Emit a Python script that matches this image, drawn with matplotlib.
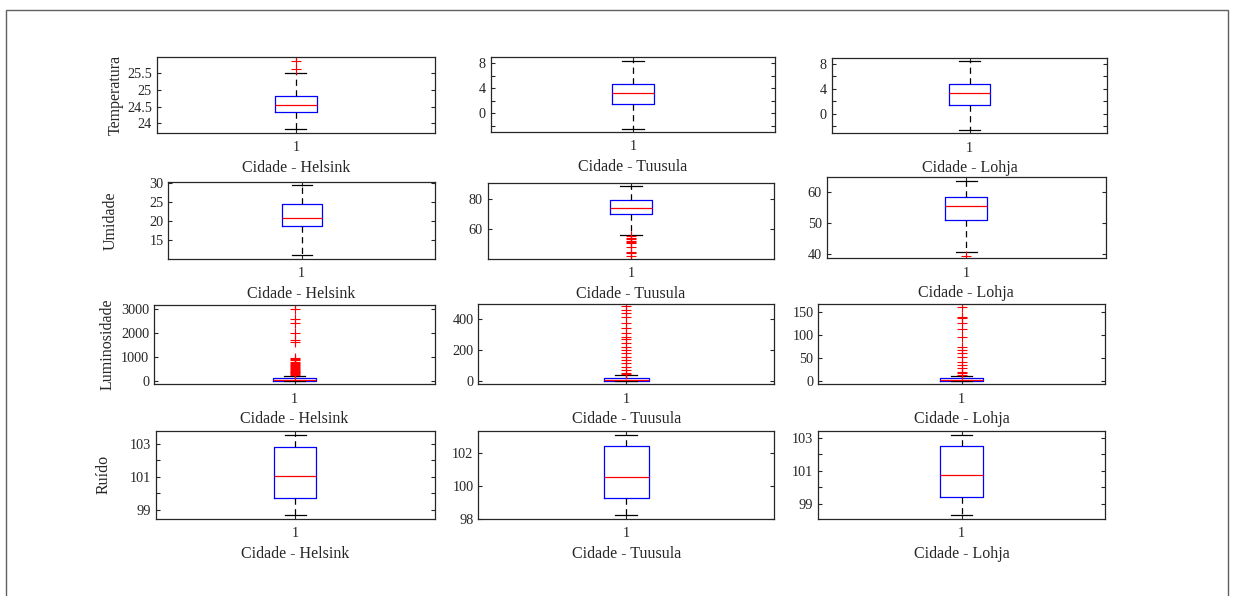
import matplotlib
matplotlib.use("Agg")
import matplotlib.pyplot as plt
from matplotlib.patches import Rectangle

# ---------------- data ----------------
cities = ["Helsink", "Tuusula", "Lohja"]
variables = ["Temperatura", "Umidade", "Luminosidade", "Ruído"]

# Temperatura (Helsink, Tuusula, Lohja)
temp_whislo = [23.83, -2.51, -2.51]
temp_q1 = [24.34, 1.44, 1.40]
temp_med = [24.56, 3.30, 3.36]
temp_q3 = [24.83, 4.74, 4.80]
temp_whishi = [25.51, 8.37, 8.48]
temp_fliers = [[25.88, 25.62], [], []]

# Umidade
umid_whislo = [10.95, 56.4, 40.4]
umid_q1 = [18.8, 69.9, 51.0]
umid_med = [20.92, 74.3, 55.4]
umid_q3 = [24.44, 79.1, 58.5]
umid_whishi = [29.5, 88.6, 63.6]
umid_fliers = [[],
               [55.6, 54.5, 53.8, 52.1, 51.5, 50.8, 48.1, 45.0, 44.2, 42.4],
               [39.4]]

# Luminosidade
lum_whislo = [0, 0, 0]
lum_q1 = [5, 1, 0.2]
lum_med = [25, 3, 0.8]
lum_q3 = [95, 15.6, 5.2]
lum_whishi = [200, 37, 9.6]
lum_fliers = [
    [3000, 2567, 2400, 1981, 1702, 1604, 940, 900, 850, 800, 750, 700, 660,
     620, 580, 540, 500, 460, 420, 380, 350, 310, 280, 250],
    [487, 461, 439, 417, 374, 341, 313, 282, 269, 243, 222, 200, 178, 156,
     135, 113, 91, 70, 48, 42],
    [162, 140.5, 137, 126, 112.7, 96.6, 74.6, 67.3, 60, 52.7, 41.7, 34.4,
     27, 19.8, 16, 12.4],
]

# Ruído
ruido_whislo = [98.68, 98.22, 98.30]
ruido_q1 = [99.71, 99.27, 99.40]
ruido_med = [101.02, 100.55, 100.72]
ruido_q3 = [102.78, 102.39, 102.52]
ruido_whishi = [103.55, 103.09, 103.18]
ruido_fliers = [[], [], []]

# y ticks and their labels per panel (row, col)
yticks = {
    (0, 0): ([24, 24.5, 25, 25.5], ["24", "24.5", "25", "25.5"]),
    (0, 1): ([-2, 0, 2, 4, 6, 8], ["", "0", "", "4", "", "8"]),
    (0, 2): ([-2, 0, 2, 4, 6, 8], ["", "0", "", "4", "", "8"]),
    (1, 0): ([15, 20, 25, 30], ["15", "20", "25", "30"]),
    (1, 1): ([60, 80], ["60", "80"]),
    (1, 2): ([40, 50, 60], ["40", "50", "60"]),
    (2, 0): ([0, 1000, 2000, 3000], ["0", "1000", "2000", "3000"]),
    (2, 1): ([0, 200, 400], ["0", "200", "400"]),
    (2, 2): ([0, 50, 100, 150], ["0", "50", "100", "150"]),
    (3, 0): ([99, 100, 101, 102, 103], ["99", "", "101", "", "103"]),
    (3, 1): ([98, 100, 102], ["98", "100", "102"]),
    (3, 2): ([99, 100, 101, 102, 103], ["99", "", "101", "", "103"]),
}

# ---------------- layout (pixels) ----------------
W, H = 1233, 596
ax_px = {
    (0, 0): (156.7, 57.3, 435.0, 132.7),
    (0, 1): (490.7, 57.3, 775.0, 132.0),
    (0, 2): (831.7, 58.0, 1107.3, 133.3),
    (1, 0): (168.3, 182.3, 435.0, 259.0),
    (1, 1): (487.7, 182.7, 774.3, 259.0),
    (1, 2): (826.7, 177.3, 1106.0, 258.3),
    (2, 0): (154.0, 305.0, 435.0, 384.3),
    (2, 1): (478.3, 304.0, 774.3, 384.3),
    (2, 2): (818.3, 304.0, 1105.0, 384.3),
    (3, 0): (155.7, 430.7, 435.0, 519.0),
    (3, 1): (478.3, 430.7, 774.3, 519.0),
    (3, 2): (818.3, 430.7, 1105.0, 519.0),
}
ylims = {
    (0, 0): (23.72, 25.98), (0, 1): (-2.99, 8.96), (0, 2): (-3.09, 8.96),
    (1, 0): (9.97, 30.26), (1, 1): (40.4, 90.7), (1, 2): (38.5, 64.9),
    (2, 0): (-151, 3168), (2, 1): (-23.5, 500), (2, 2): (-7.9, 168.2),
    (3, 0): (98.44, 103.79), (3, 1): (98.0, 103.33), (3, 2): (98.07, 103.42),
}

stats_by_var = [
    (temp_whislo, temp_q1, temp_med, temp_q3, temp_whishi, temp_fliers),
    (umid_whislo, umid_q1, umid_med, umid_q3, umid_whishi, umid_fliers),
    (lum_whislo, lum_q1, lum_med, lum_q3, lum_whishi, lum_fliers),
    (ruido_whislo, ruido_q1, ruido_med, ruido_q3, ruido_whishi, ruido_fliers),
]

TXT = "#262626"
plt.rcParams["font.family"] = ["Liberation Serif", "DejaVu Serif"]
plt.rcParams["text.color"] = TXT

fig = plt.figure(figsize=(W / 100, H / 100), dpi=100)

# outer frame
fig.patches.append(Rectangle((5.5 / W, -0.05), (1228 - 5.5) / W, 1.05 - 10 / H,
                             transform=fig.transFigure, fill=False,
                             edgecolor="#606060", linewidth=1.0))

for r in range(4):
    wl, q1, md, q3, wh, fl = stats_by_var[r]
    for c in range(3):
        x0, y0, x1, y1 = ax_px[(r, c)]
        ax = fig.add_axes([x0 / W, 1 - y1 / H, (x1 - x0) / W, (y1 - y0) / H])
        st = [dict(med=md[c], q1=q1[c], q3=q3[c], whislo=wl[c], whishi=wh[c],
                   fliers=fl[c])]
        ax.bxp(st, positions=[1], widths=0.15, capwidths=0.075,
               boxprops=dict(color="blue", linewidth=0.9),
               medianprops=dict(color="red", linewidth=0.9),
               whiskerprops=dict(color="black", linewidth=0.9,
                                 linestyle=(0, (5, 3.5))),
               capprops=dict(color="black", linewidth=0.9),
               flierprops=dict(marker="+", markeredgecolor="red",
                               markersize=6.5, markeredgewidth=0.8,
                               linestyle="none"))
        ax.set_xlim(0.5, 1.5)
        ax.set_ylim(*ylims[(r, c)])
        ax.set_xticks([1])
        ax.set_xticklabels(["1"])
        tv, tl = yticks[(r, c)]
        ax.set_yticks(tv)
        ax.set_yticklabels(tl)
        ax.tick_params(direction="in", length=3, width=0.8, colors=TXT,
                       labelsize=10.3, pad=3.5, top=True, right=True,
                       labelcolor=TXT)
        ax.tick_params(axis="x", pad=6)
        for s in ax.spines.values():
            s.set_color(TXT)
            s.set_linewidth(0.9)
        # x label
        ax.set_xlabel(f"Cidade - {cities[c]}", fontsize=11.5, color=TXT,
                      va="baseline")
        ax.xaxis.set_label_coords((x0 + x1) / 2 / W, 1 - (y1 + 39) / H,
                                  transform=fig.transFigure)
        if c == 0:
            ax.set_ylabel(variables[r], fontsize=11.5, color=TXT,
                          va="center", ha="center")
            ylx = [115.5, 110.5, 108.0, 104.0][r]
            ax.yaxis.set_label_coords(ylx / W, 1 - (y0 + y1) / 2 / H,
                                      transform=fig.transFigure)

fig.savefig("out.png", dpi=100)
